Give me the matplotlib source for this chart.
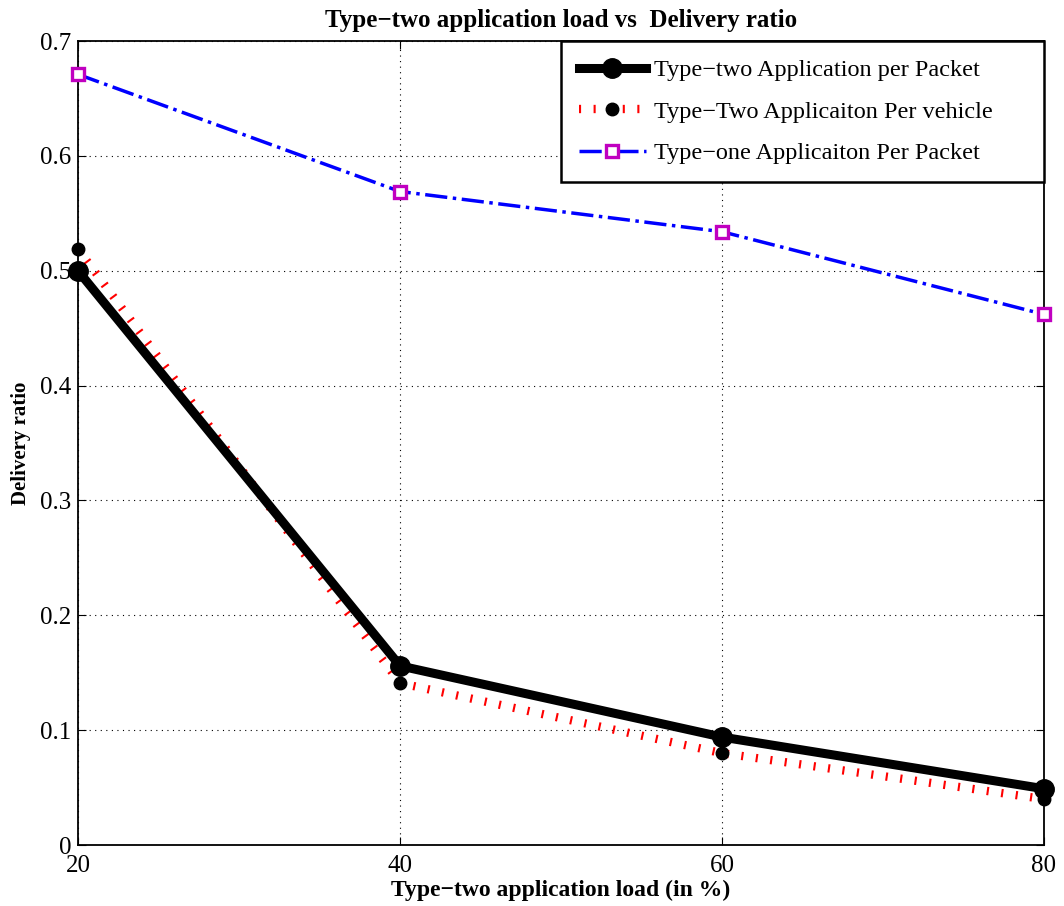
import matplotlib.pyplot as plt

# Load percentages and measured delivery ratios
load = [20, 40, 60, 80]
type2_packet = [0.500, 0.156, 0.094, 0.049]
type2_vehicle = [0.519, 0.141, 0.080, 0.040]
type1_packet = [0.671, 0.569, 0.534, 0.462]

plt.rcParams['font.family'] = ['Liberation Serif', 'DejaVu Serif']

fig = plt.figure(figsize=(10.64, 9.06), dpi=100)
ax = fig.add_axes([0.0733, 0.0673, 0.9079, 0.8874])

ax.plot(load, type2_packet, color='black', lw=6.5, marker='o', ms=14,
        label='Type\u2212two Application per Packet', zorder=3, clip_on=False)
ax.plot(load, type2_vehicle, color='red', lw=6, dashes=(0.25, 1.5),
        dash_capstyle='butt', marker='o', ms=9, mfc='black', mec='black',
        label='Type\u2212Two Applicaiton Per vehicle', zorder=2, clip_on=False)
ax.plot(load, type1_packet, color='blue', lw=2.5, linestyle='-.',
        marker='s', ms=8, mfc='white', mec='#c000c0', mew=2.4,
        label='Type\u2212one Applicaiton Per Packet', zorder=3, clip_on=False)

ax.set_xlim(20, 80)
ax.set_ylim(0, 0.7)
ax.set_xticks(load)
ax.set_yticks([0, 0.1, 0.2, 0.3, 0.4, 0.5, 0.6, 0.7])
ax.set_yticklabels(['0', '0.1', '0.2', '0.3', '0.4', '0.5', '0.6', '0.7'])
ax.tick_params(direction='in', top=True, right=True, labelsize=18, length=6)
ax.tick_params(axis='y', pad=5)
ax.tick_params(axis='x', pad=7)
ax.grid(True, color='black', linestyle=(0, (1, 4)), lw=0.8)
for s in ax.spines.values():
    s.set_linewidth(1.3)

ax.set_title('Type\u2212two application load vs  Delivery ratio',
             fontsize=18, fontweight='bold', pad=10)
ax.set_xlabel('Type\u2212two application load (in %)', fontsize=17,
              fontweight='bold', labelpad=2)
ax.set_ylabel('Delivery ratio', fontsize=15, fontweight='bold', labelpad=6)

# legend box spans the right half of the axes, flush with the top edge
leg = ax.legend(loc='upper left', bbox_to_anchor=(0.4995, 0.0, 0.5005, 1.0),
                mode='expand', borderaxespad=0, fontsize=17.5,
                fancybox=False, edgecolor='black', framealpha=1,
                handlelength=2.75, handletextpad=0.35, labelspacing=0.8,
                borderpad=0.75)
leg.get_frame().set_linewidth(1.8)

fig.savefig('out.png', dpi=100)
